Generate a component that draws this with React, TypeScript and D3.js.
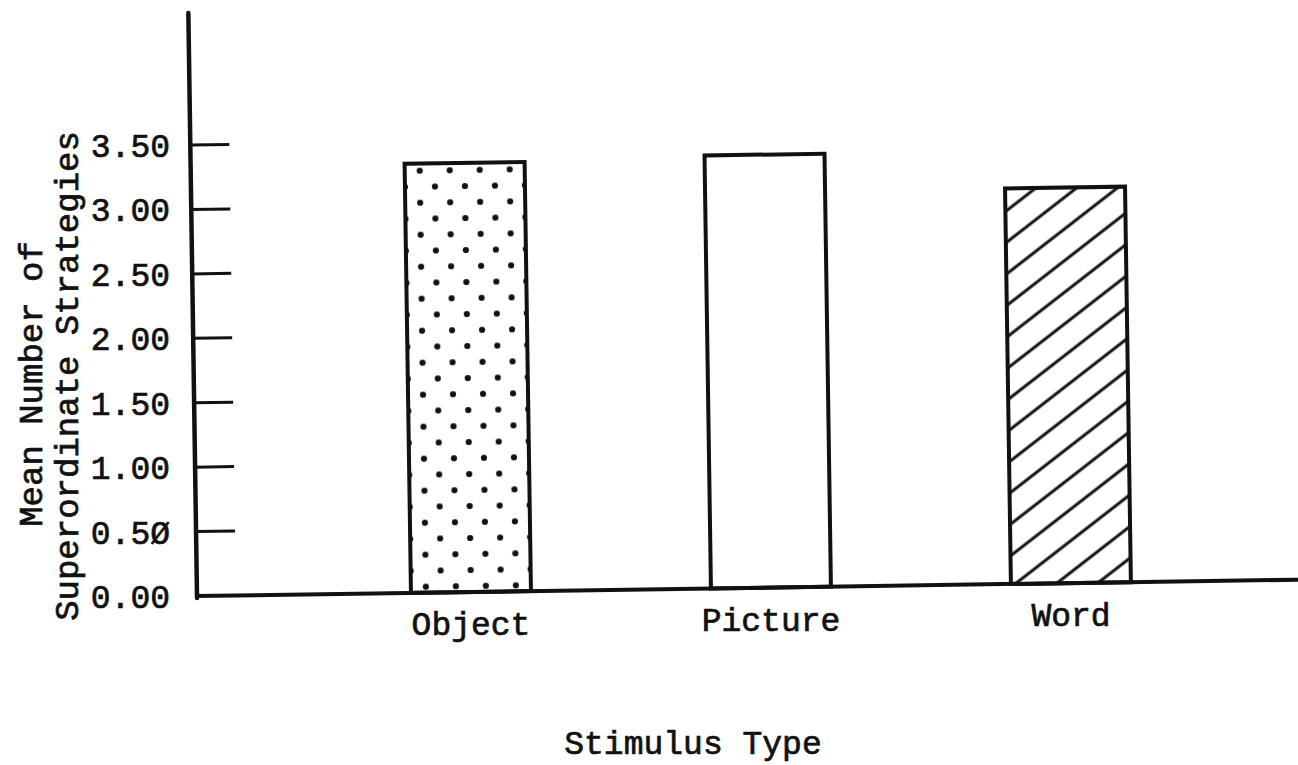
import React from "react";
import * as d3 from "d3";

const categories = ["Object", "Picture", "Word"];
const values = [3.33, 3.36, 3.07];
const fills = ["url(#dots)", "#ffffff", "url(#hatch)"];
const yTicks = [0, 0.5, 1.0, 1.5, 2.0, 2.5, 3.0, 3.5];
const yTickLabels = ["0.00", "0.5\u00D8", "1.00", "1.50", "2.00", "2.50", "3.00", "3.50"];
const yTitle = ["Mean Number of", "Superordinate Strategies"];
const xTitle = "Stimulus Type";

const W = 1298;
const H = 765;
const FONT = "'Courier New', 'Liberation Mono', monospace";

export default function App() {
  const originX = 200;
  const originY = 596;
  const y = d3.scaleLinear().domain([0, 3.5]).range([originY, 145]);
  const x = d3
    .scaleBand<string>()
    .domain(categories)
    .range([261, 1281])
    .paddingInner(0.6)
    .paddingOuter(0.5);
  const tilt = -0.85;
  const textProps = {
    fontFamily: FONT,
    fontSize: 33,
    fill: "#111",
    stroke: "#111",
    strokeWidth: 0.7,
  };

  return (
    <svg
      width={W}
      height={H}
      style={{ position: "absolute", left: 0, top: 0, background: "#fff" }}
      xmlns="http://www.w3.org/2000/svg"
    >
      <defs>
        <pattern id="dots" patternUnits="userSpaceOnUse" width={30} height={32} x={420} y={8}>
          <rect width={30} height={32} fill="#fff" />
          <circle cx={6} cy={6} r={3.1} fill="#111" />
          <circle cx={21} cy={22} r={3.1} fill="#111" />
        </pattern>
        <pattern
          id="hatch"
          patternUnits="userSpaceOnUse"
          width={40}
          height={25}
          patternTransform="rotate(-37)"
        >
          <rect width={40} height={25} fill="#fff" />
          <line x1={-5} y1={12} x2={45} y2={12} stroke="#111" strokeWidth={2.8} />
        </pattern>
      </defs>
      <rect width={W} height={H} fill="#fff" />

      <g transform={`rotate(${tilt}, ${originX}, ${originY})`}>
        {categories.map((c, i) => (
          <rect
            key={c}
            x={x(c)}
            y={y(values[i])}
            width={x.bandwidth()}
            height={originY - y(values[i])}
            fill={fills[i]}
            stroke="#111"
            strokeWidth={4}
          />
        ))}
        {/* y axis */}
        <line x1={originX - 3} y1={originY + 2} x2={originX - 3} y2={13} stroke="#111" strokeWidth={4.5} strokeLinecap="round" />
        {yTicks.slice(1).map((t) => (
          <line key={t} x1={originX - 3} x2={originX + 36} y1={y(t)} y2={y(t)} stroke="#111" strokeWidth={3} />
        ))}
        {/* x axis */}
        <line x1={originX - 5} y1={originY} x2={W + 20} y2={originY} stroke="#111" strokeWidth={4} />
      </g>

      {yTicks.map((t, i) => (
        <text key={t} x={170} y={y(t) + 12} textAnchor="end" {...textProps}>
          {yTickLabels[i]}
        </text>
      ))}

      {categories.map((c) => (
        <text
          key={c}
          x={(x(c) as number) + x.bandwidth() / 2}
          y={638 - 0.0146 * ((x(c) as number) - originX)}
          textAnchor="middle"
          {...textProps}
        >
          {c}
        </text>
      ))}

      <text x={693} y={754} textAnchor="middle" {...textProps}>
        {xTitle}
      </text>

      <text transform="translate(42, 384) rotate(-90)" textAnchor="middle" {...textProps} fontSize={34}>
        {yTitle[0]}
      </text>
      <text transform="translate(78, 376) rotate(-90)" textAnchor="middle" {...textProps} fontSize={34}>
        {yTitle[1]}
      </text>
    </svg>
  );
}
